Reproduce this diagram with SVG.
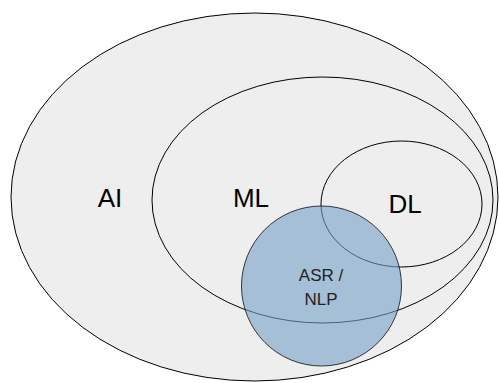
<svg xmlns="http://www.w3.org/2000/svg" width="499" height="383" viewBox="0 0 499 383">
  <style>
    .set { fill: #eeeeee; stroke: #000000; stroke-width: 1; }
    .overlap { fill: rgb(116,160,198); fill-opacity: 0.6; stroke: #000000; stroke-opacity: 0.75; stroke-width: 1; }
    .big { font-family: "Liberation Sans", Arial, sans-serif; font-size: 26px; fill: #000000; text-anchor: middle; }
    .small { font-family: "Liberation Sans", Arial, sans-serif; font-size: 17px; fill: #222222; text-anchor: middle; }
  </style>
  <rect width="499" height="383" fill="#ffffff"/>
  <g id="ai">
    <ellipse class="set" cx="254.5" cy="197" rx="243.5" ry="184"/>
    <text class="big" x="110" y="207">AI</text>
  </g>
  <g id="ml">
    <ellipse class="set" cx="322.5" cy="200" rx="170.5" ry="123"/>
    <text class="big" x="251" y="207">ML</text>
  </g>
  <g id="dl">
    <ellipse class="set" cx="401.5" cy="204" rx="80.5" ry="63"/>
    <text class="big" x="405" y="213">DL</text>
  </g>
  <g id="asr-nlp">
    <circle class="overlap" cx="321.5" cy="286" r="80"/>
    <text class="small" x="321" y="281">ASR /</text>
    <text class="small" x="321" y="305">NLP</text>
  </g>
  <g id="connectors"/>
</svg>
